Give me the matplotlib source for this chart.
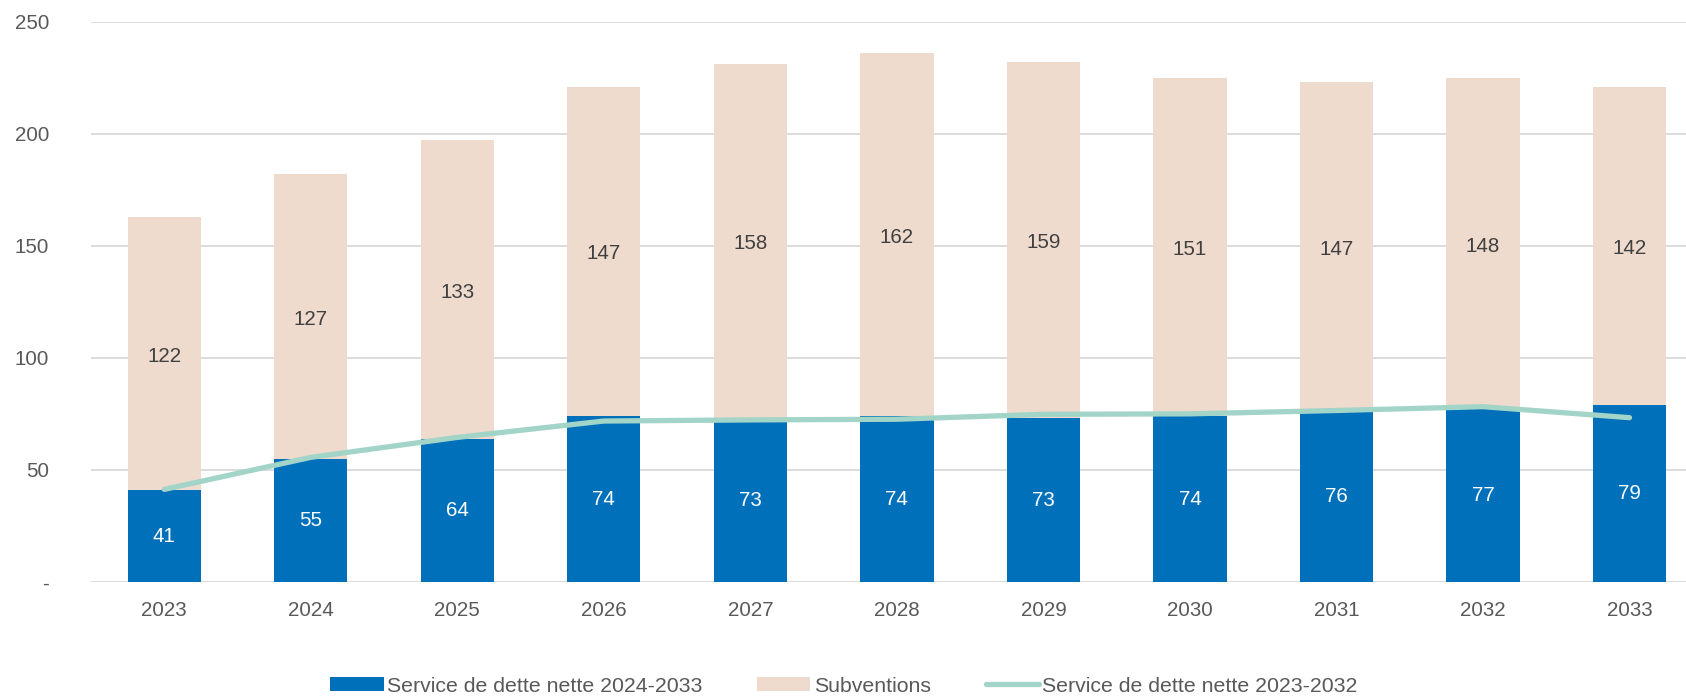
import matplotlib
matplotlib.use("Agg")
import matplotlib.pyplot as plt
import numpy as np

years = ["2023", "2024", "2025", "2026", "2027", "2028", "2029", "2030", "2031", "2032", "2033"]
service_2024_2033 = [41, 55, 64, 74, 73, 74, 73, 74, 76, 77, 79]
subventions = [122, 127, 133, 147, 158, 162, 159, 151, 147, 148, 142]
service_2023_2032 = [41.3, 55.6, 64.5, 71.8, 72.3, 72.6, 74.8, 75.0, 76.5, 78.2, 73.3]
yticks = [0, 50, 100, 150, 200, 250]
ytick_labels = ["-", "50", "100", "150", "200", "250"]

BLUE = "#0070BA"
BEIGE = "#EFDBCE"
TEAL = "#A3D4C8"
TXT = "#595959"
GRID = "#D9D9D9"

plt.rcParams['font.family'] = ['Liberation Sans', 'DejaVu Sans']

W, H = 1686, 696
fig = plt.figure(figsize=(W / 100, H / 100), dpi=100)
ax_left, ax_right = 91, 1686
ax_bot, ax_top = 582, 21.5
ax = fig.add_axes([ax_left / W, 1 - ax_bot / H, (ax_right - ax_left) / W, (ax_bot - ax_top) / H])

x = np.arange(len(years))
bw = 0.5
fs = 14.8
b1 = ax.bar(x, service_2024_2033, width=bw, color=BLUE, label="Service de dette nette 2024-2033", zorder=2)
b2 = ax.bar(x, subventions, width=bw, bottom=service_2024_2033, color=BEIGE, label="Subventions", zorder=2)
ln, = ax.plot(x, service_2023_2032, color=TEAL, lw=3.8, solid_capstyle="round",
              label="Service de dette nette 2023-2032", zorder=3)

for xi, v in zip(x, service_2024_2033):
    ax.text(xi, v / 2, f"{v}", ha="center", va="center", color="white", fontsize=fs, zorder=4)
for xi, b, v in zip(x, service_2024_2033, subventions):
    ax.text(xi, b + v / 2 - 1.2, f"{v}", ha="center", va="center", color="#404040", fontsize=fs, zorder=4)

ax.set_xlim(-0.5, (ax_right - 163.5) / 146.6)
ax.set_ylim(0, 250)
ax.set_yticks(yticks)
ax.set_yticklabels(ytick_labels)
ax.set_xticks(x)
ax.set_xticklabels(years)
ax.tick_params(axis="both", length=0, labelsize=fs, colors=TXT)
ax.tick_params(axis="y", pad=30)
ax.tick_params(axis="x", pad=14)
ax.yaxis.grid(True, color=GRID, lw=1.3, zorder=0)
ax.set_axisbelow(True)
for s in ax.spines.values():
    s.set_visible(False)

leg = fig.legend(handles=[b1, b2, ln], loc="center", bbox_to_anchor=(844 / W, 1 - 686 / H),
                 ncol=3, frameon=False, fontsize=15.3, handlelength=2.5, handleheight=0.6,
                 columnspacing=2.6, handletextpad=0.15, labelcolor=TXT)

fig.savefig("out.png", dpi=100)
